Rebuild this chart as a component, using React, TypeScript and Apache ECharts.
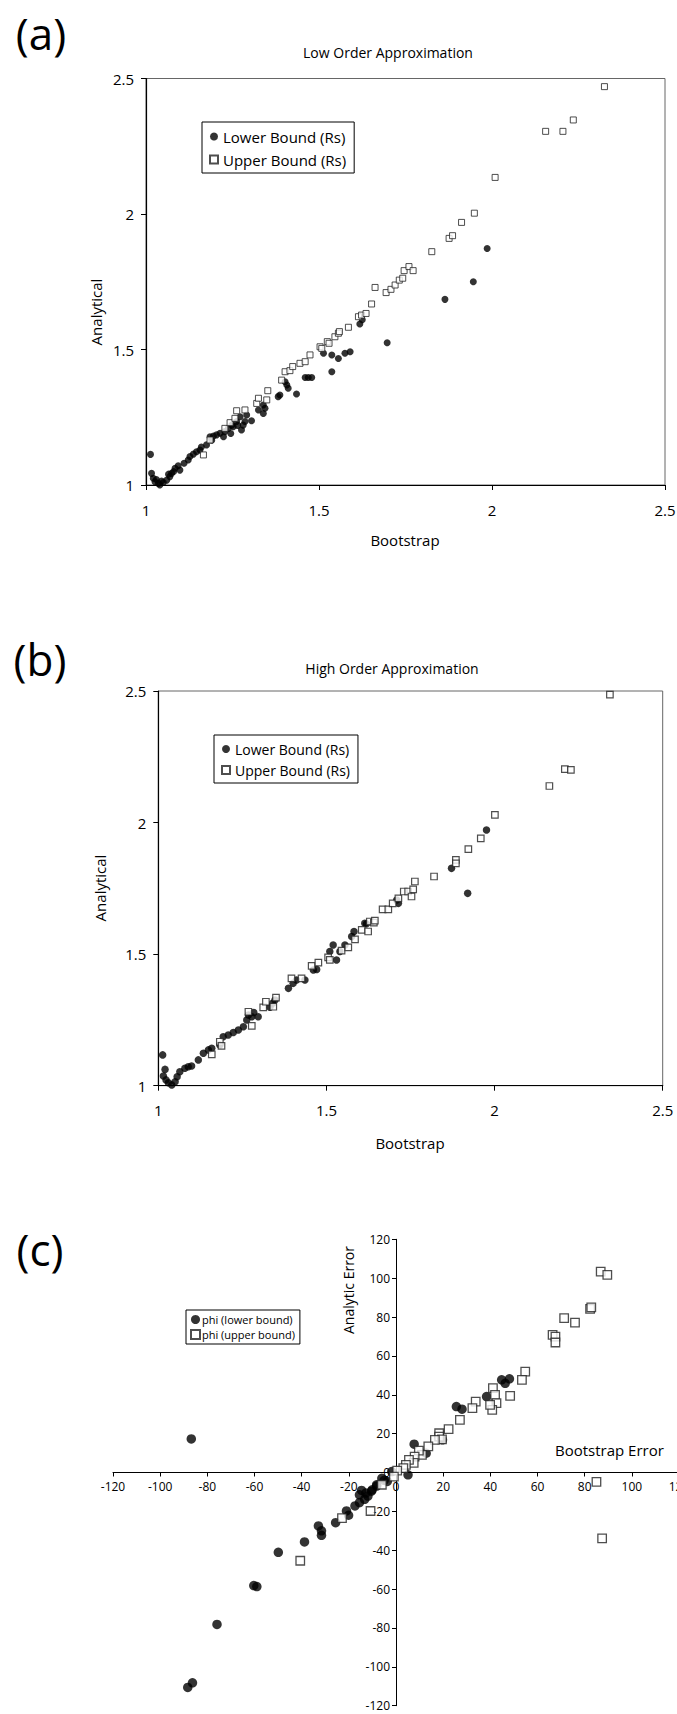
import React, { useEffect, useRef } from 'react';
import * as echarts from 'echarts';

const FONT = "'Open Sans', 'Noto Sans', 'DejaVu Sans', sans-serif";

// ---------- Panel (a): Low Order Approximation ----------
const lowA: number[][] = [
  [1.013, 1.113], [1.016, 1.043], [1.021, 1.025], [1.026, 1.012], [1.03, 1.02], [1.036, 1.006],
  [1.040, 1.000], [1.045, 1.015], [1.050, 1.009], [1.060, 1.018], [1.065, 1.04], [1.069, 1.031],
  [1.074, 1.043], [1.08, 1.05], [1.084, 1.062], [1.093, 1.071], [1.098, 1.055], [1.11, 1.08],
  [1.122, 1.092], [1.127, 1.105], [1.137, 1.114], [1.146, 1.123], [1.156, 1.129], [1.16, 1.14],
  [1.175, 1.148], [1.185, 1.178], [1.19, 1.165], [1.195, 1.181], [1.204, 1.185], [1.214, 1.191],
  [1.224, 1.178], [1.228, 1.197], [1.238, 1.209], [1.245, 1.19], [1.248, 1.221], [1.252, 1.215],
  [1.262, 1.234], [1.265, 1.22], [1.272, 1.252], [1.276, 1.203], [1.281, 1.221], [1.286, 1.234],
  [1.291, 1.258], [1.305, 1.237], [1.325, 1.277], [1.339, 1.264], [1.339, 1.295], [1.344, 1.283],
  [1.382, 1.326], [1.387, 1.332], [1.402, 1.381], [1.407, 1.369], [1.411, 1.357], [1.435, 1.336],
  [1.460, 1.397], [1.469, 1.397], [1.479, 1.397], [1.513, 1.486], [1.537, 1.480], [1.537, 1.418],
  [1.556, 1.467], [1.575, 1.486], [1.590, 1.492], [1.618, 1.594], [1.625, 1.61], [1.697, 1.525],
  [1.864, 1.685], [1.946, 1.750], [1.986, 1.873],
];
const upA: number[][] = [
  [1.166, 1.111], [1.185, 1.166], [1.228, 1.209], [1.243, 1.230], [1.257, 1.246], [1.262, 1.274],
  [1.286, 1.277], [1.320, 1.301], [1.325, 1.320], [1.349, 1.314], [1.352, 1.348], [1.392, 1.387],
  [1.402, 1.418], [1.416, 1.422], [1.424, 1.437], [1.445, 1.449], [1.460, 1.455], [1.474, 1.480],
  [1.503, 1.510], [1.508, 1.504], [1.524, 1.529], [1.529, 1.523], [1.546, 1.547], [1.556, 1.560],
  [1.559, 1.566], [1.585, 1.582], [1.614, 1.621], [1.623, 1.627], [1.636, 1.633], [1.652, 1.668],
  [1.662, 1.729], [1.694, 1.710], [1.708, 1.722], [1.720, 1.738], [1.732, 1.756], [1.742, 1.763],
  [1.746, 1.791], [1.760, 1.806], [1.772, 1.791], [1.826, 1.861], [1.876, 1.910], [1.886, 1.920],
  [1.912, 1.969], [1.949, 2.003], [2.009, 2.135], [2.155, 2.305], [2.205, 2.305], [2.235, 2.347],
  [2.325, 2.470],
];

// ---------- Panel (b): High Order Approximation ----------
const lowB: number[][] = [
  [1.013, 1.117], [1.020, 1.062], [1.015, 1.037], [1.023, 1.022], [1.030, 1.011], [1.040, 1.003],
  [1.050, 1.015], [1.056, 1.034], [1.064, 1.053], [1.079, 1.066], [1.089, 1.072], [1.099, 1.075],
  [1.119, 1.098], [1.134, 1.123], [1.149, 1.136], [1.159, 1.142], [1.183, 1.155], [1.193, 1.186],
  [1.208, 1.193], [1.223, 1.202], [1.238, 1.212], [1.253, 1.224], [1.263, 1.250], [1.268, 1.269],
  [1.278, 1.262], [1.284, 1.278], [1.297, 1.262], [1.332, 1.298], [1.340, 1.313], [1.347, 1.326],
  [1.387, 1.370], [1.401, 1.389], [1.411, 1.402], [1.436, 1.402], [1.461, 1.440], [1.471, 1.442],
  [1.510, 1.510], [1.520, 1.535], [1.530, 1.478], [1.540, 1.510], [1.555, 1.535], [1.575, 1.567],
  [1.582, 1.586], [1.614, 1.617], [1.619, 1.615], [1.709, 1.706], [1.714, 1.693], [1.872, 1.826],
  [1.920, 1.731], [1.976, 1.972],
];
const upB: number[][] = [
  [1.159, 1.119], [1.183, 1.167], [1.188, 1.151], [1.268, 1.281], [1.278, 1.227], [1.312, 1.298],
  [1.320, 1.319], [1.342, 1.300], [1.350, 1.335], [1.396, 1.408], [1.426, 1.408], [1.456, 1.455],
  [1.476, 1.468], [1.505, 1.488], [1.510, 1.478], [1.545, 1.513], [1.565, 1.526], [1.585, 1.556],
  [1.605, 1.592], [1.624, 1.586], [1.629, 1.624], [1.641, 1.620], [1.644, 1.627], [1.667, 1.670],
  [1.684, 1.670], [1.697, 1.693], [1.714, 1.712], [1.730, 1.738], [1.743, 1.738], [1.753, 1.719],
  [1.758, 1.746], [1.763, 1.776], [1.820, 1.795], [1.885, 1.858], [1.885, 1.845], [1.922, 1.899],
  [1.959, 1.940], [2.001, 2.029], [2.163, 2.139], [2.209, 2.203], [2.227, 2.200], [2.343, 2.486],
];

// ---------- Panel (c): errors ----------
const lowC: number[][] = [
  [-86.8, 17.3], [-88.3, -110.6], [-86.3, -108.2], [-75.9, -78.2], [-60.3, -58.2], [-59.0, -58.7],
  [-49.9, -41.1], [-38.8, -35.7], [-32.9, -27.5], [-31.6, -30.0], [-31.6, -32.3], [-25.6, -25.8],
  [-21.0, -19.8], [-20.1, -22.0], [-17.4, -17.2], [-15.5, -15.5], [-14.6, -9.2], [-13.3, -13.8],
  [-11.9, -12.1], [-15.5, -11.5], [-12.8, -10.6], [-10.4, -9.6], [-10.1, -8.9], [-8.2, -7.0],
  [-8.2, -6.3], [-6.0, -3.0], [-5.0, -4.0], [-3.7, -4.6], [-1.8, 0.5], [5.1, -1.2], [7.7, 14.6],
  [12.8, 9.9], [19.7, 16.8], [25.6, 33.9], [28.0, 32.6], [38.4, 39.1], [44.8, 47.7], [46.3, 45.9],
  [48.1, 48.2],
];
const upC: number[][] = [
  [86.8, 103.4], [89.6, 101.7], [82.3, 84.2], [82.8, 85.0], [71.3, 79.4], [75.9, 77.1], [66.4, 70.8],
  [67.6, 69.9], [67.6, 66.9], [54.8, 51.9], [53.4, 47.7], [48.4, 39.4], [41.1, 43.4], [42.0, 39.9],
  [42.6, 35.7], [40.8, 32.2], [39.9, 34.8], [33.8, 36.5], [32.4, 33.1], [27.1, 27.1], [22.3, 22.3],
  [18.3, 20.2], [18.3, 18.5], [19.5, 17.0], [16.5, 16.8], [13.7, 13.4], [11.0, 9.1], [9.7, 11.3],
  [7.9, 8.2], [7.5, 5.0], [5.5, 6.5], [4.2, 3.9], [3.1, 2.2], [0.5, 1.0], [-0.9, -2.1], [-6.0, -6.3],
  [85.0, -4.8], [87.4, -33.9], [-10.8, -19.8], [-22.9, -23.5], [-40.6, -45.4],
];

const ratioTicks = { min: 1, max: 2.5, interval: 0.5 };
const errTicks = { min: -120, max: 120, interval: 20 };

// grid geometry of panel (c)
const C_LEFT = 113;
const C_TOP = 1239.3;
const C_W = 566;
const C_H = 466.4;

function ratioAxis(gridIndex: number, isX: boolean) {
  return {
    gridIndex,
    type: 'value',
    ...ratioTicks,
    axisLine: { show: true, onZero: false, lineStyle: { color: '#000', width: 1.2 } },
    axisTick: { show: true, length: 5, lineStyle: { color: '#000', width: 1 } },
    axisLabel: { color: '#000', fontSize: 15, fontFamily: FONT, margin: isX ? 17 : 12 },
    splitLine: { show: false },
  };
}
function errAxis(isX: boolean) {
  // place each axis at the other axis' zero
  const offset = isX ? -(C_H / 2) : -(C_W * (120 / 240));
  return {
    gridIndex: 2,
    type: 'value',
    ...errTicks,
    position: isX ? 'bottom' : 'left',
    offset,
    axisLine: { show: true, onZero: false, lineStyle: { color: '#000', width: 1 } },
    axisTick: { show: true, length: 4, lineStyle: { color: '#000', width: 1 } },
    axisLabel: { color: '#000', fontSize: 12, fontFamily: FONT, margin: isX ? 8 : 6 },
    splitLine: { show: false },
  };
}

const txt = (text: string, x: number, y: number, fontSize: number, rotation = 0, align = 'center') => ({
  type: 'text', x, y, rotation,
  style: { text, fontSize, fontFamily: FONT, fill: '#000', align, verticalAlign: 'middle' },
});

const squareStyle = (w: number) => ({ color: '#fff', borderColor: '#222', borderWidth: w });

const option: any = {
  animation: false,
  backgroundColor: '#fff',
  textStyle: { fontFamily: FONT },
  grid: [
    { left: 146, top: 78.5, width: 519, height: 406.5, show: true, borderColor: '#666', borderWidth: 1, containLabel: false, outerBoundsMode: 'none' },
    { left: 158.3, top: 691, width: 504.4, height: 394.7, show: true, borderColor: '#666', borderWidth: 1, containLabel: false, outerBoundsMode: 'none' },
    { left: C_LEFT, top: C_TOP, width: C_W, height: C_H, show: false, containLabel: false, outerBoundsMode: 'none' },
  ],
  xAxis: [ratioAxis(0, true), ratioAxis(1, true), errAxis(true)],
  yAxis: [ratioAxis(0, false), ratioAxis(1, false), errAxis(false)],
  legend: [
    {
      left: 202, top: 122, orient: 'vertical', selectedMode: false,
      data: [{ name: 'Lower Bound (Rs)', icon: 'circle' }, { name: 'Upper Bound (Rs)', icon: 'rect' }],
      borderColor: '#000', borderWidth: 1, padding: [7, 8, 6, 7], itemGap: 8, itemWidth: 8, itemHeight: 8,
      textStyle: { fontSize: 15, color: '#000', fontFamily: FONT },
    },
    {
      left: 214, top: 735, orient: 'vertical', selectedMode: false,
      data: [{ name: 'Lower Bound (Rs)', icon: 'circle' }, { name: 'Upper Bound (Rs)', icon: 'rect' }],
      borderColor: '#000', borderWidth: 1, padding: [7, 8, 6, 7], itemGap: 7, itemWidth: 8, itemHeight: 8,
      textStyle: { fontSize: 14, color: '#000', fontFamily: FONT },
    },
    {
      left: 186, top: 1310, orient: 'vertical', selectedMode: false,
      data: [{ name: 'phi (lower bound)', icon: 'circle' }, { name: 'phi (upper bound)', icon: 'rect' }],
      borderColor: '#000', borderWidth: 1, padding: [4, 5, 4, 4], itemGap: 4, itemWidth: 9, itemHeight: 9,
      textStyle: { fontSize: 11, color: '#000', fontFamily: FONT, padding: [0, 0, 0, -3] },
    },
  ],
  graphic: [
    txt('(a)', 41, 33, 44),
    txt('Low Order Approximation', 388, 52, 14),
    txt('Analytical', 96, 312, 15, Math.PI / 2),
    txt('Bootstrap', 405, 540, 15),
    txt('(b)', 40, 659, 44),
    txt('High Order Approximation', 392, 668, 14),
    txt('Analytical', 100, 888, 15, Math.PI / 2),
    txt('Bootstrap', 410, 1143, 15),
    txt('(c)', 40, 1249, 44),
    txt('Analytic Error', 348, 1290, 14, Math.PI / 2),
    txt('Bootstrap Error', 555, 1450, 15, 0, 'left'),
  ],
  series: [
    { type: 'scatter', name: 'Lower Bound (Rs)', xAxisIndex: 0, yAxisIndex: 0, data: lowA, symbol: 'circle', symbolSize: 7, itemStyle: { color: '#000' } },
    { type: 'scatter', name: 'Upper Bound (Rs)', xAxisIndex: 0, yAxisIndex: 0, data: upA, symbol: 'rect', symbolSize: 6, itemStyle: squareStyle(1) },
    { type: 'scatter', name: 'Lower Bound (Rs)', xAxisIndex: 1, yAxisIndex: 1, data: lowB, symbol: 'circle', symbolSize: 7.5, itemStyle: { color: '#000' } },
    { type: 'scatter', name: 'Upper Bound (Rs)', xAxisIndex: 1, yAxisIndex: 1, data: upB, symbol: 'rect', symbolSize: 6.5, itemStyle: squareStyle(1.2) },
    { type: 'scatter', name: 'phi (lower bound)', xAxisIndex: 2, yAxisIndex: 2, data: lowC, symbol: 'circle', symbolSize: 9.5, itemStyle: { color: '#000' } },
    { type: 'scatter', name: 'phi (upper bound)', xAxisIndex: 2, yAxisIndex: 2, data: upC, symbol: 'rect', symbolSize: 8.5, itemStyle: squareStyle(1.3) },
  ],
};

export default function App() {
  const ref = useRef<HTMLDivElement>(null);
  useEffect(() => {
    const chart = echarts.init(ref.current as HTMLDivElement, null, { renderer: 'svg' });
    chart.setOption(option);
    return () => chart.dispose();
  }, []);
  return (
    <div
      ref={ref}
      style={{ position: 'absolute', left: 0, top: 0, width: 677, height: 1714, background: '#fff' }}
    />
  );
}
